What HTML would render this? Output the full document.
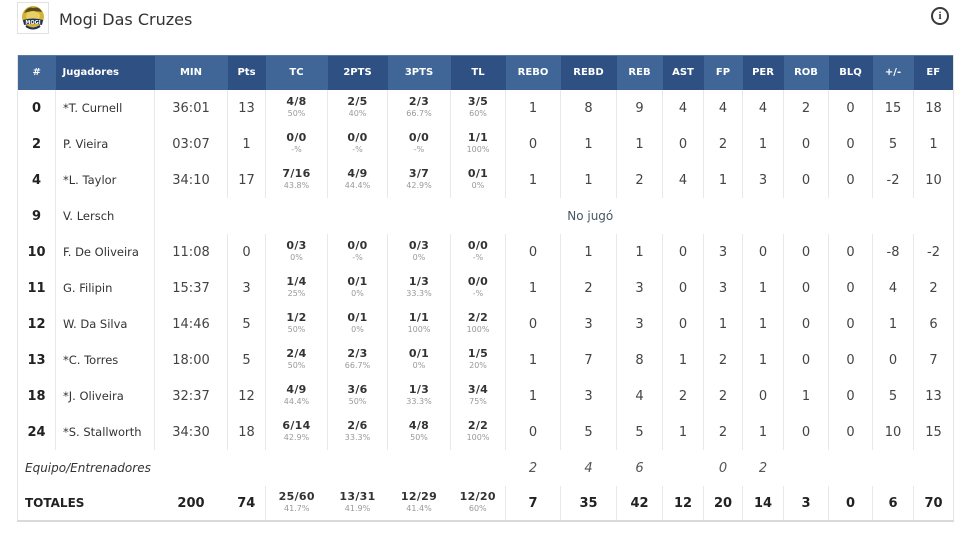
<!DOCTYPE html>
<html>
<head>
<meta charset="utf-8">
<style>
html,body{margin:0;padding:0;background:#fff;}
body{width:970px;height:537px;position:relative;overflow:hidden;font-family:"DejaVu Sans","Liberation Sans",sans-serif;color:#444;}
.logo{position:absolute;left:17px;top:2px;width:32px;height:32px;box-sizing:border-box;border:1px solid #e2e2e2;background:#fff;}
.title{position:absolute;left:59px;top:10px;font-size:16px;color:#333;line-height:20px;white-space:nowrap;}
.info{position:absolute;left:931px;top:7px;width:14px;height:14px;border:2px solid #3a3a3a;border-radius:50%;text-align:center;font:bold 11px/14px "Liberation Serif",serif;color:#3a3a3a;}
table{position:absolute;left:17px;top:55px;border-collapse:collapse;table-layout:fixed;width:936px;border-left:1px solid #e4e4e4;border-right:1px solid #e4e4e4;border-bottom:2px solid #dadada;}
th{height:35px;padding:0;color:#fff;font-size:10px;font-weight:bold;text-align:center;background:#2f5082;box-shadow:inset 0 1px 0 #5a7aa5;}
th.l{background:#3f6696;}
th.left{text-align:left;padding-left:7px;}
td{padding:0;text-align:center;font-size:13px;color:#444;height:36px;border-left:1px solid #e8e8e8;white-space:nowrap;}
td.n{font-weight:bold;color:#222;font-size:13px;border-left:none;}
td.p{text-align:left;padding-left:7px;font-size:11.5px;color:#333;}
td.f{line-height:12px;}
td.f b{display:block;font-size:11px;color:#333;letter-spacing:0.3px;}
td.f span{display:block;font-size:8px;color:#999;}
tr.nb td{border-left:none;}
td.nj{border-left:none;font-size:12px;color:#475766;}
tr.eq td{border-left:none;font-style:italic;color:#555;font-size:13px;}
tr.eq td.eqt{text-align:left;padding-left:7px;font-size:12px;color:#333;}
tr.tot td{height:34px;font-weight:bold;color:#222;}
tr.tot td.nb{border-left:none;}
tr.tot td.tt{text-align:left;padding-left:7px;font-size:12px;}
tr.tot td.f span{font-weight:normal;font-size:8px;color:#999;}
</style>
</head>
<body>
<div class="logo">
<svg width="30" height="30" viewBox="0 0 30 30">
<ellipse cx="15" cy="14" rx="11" ry="11" fill="#d4b23a"/>
<path d="M6 10 Q10 3 15 5 Q21 3 24 9 Q20 8 15 9 Q10 8 6 10Z" fill="#5a4a1a"/>
<ellipse cx="15" cy="13" rx="7" ry="5" fill="#e8cf63"/>
<path d="M5 17 Q15 14 25 17 L24 22 Q15 19 6 22Z" fill="#1f3358"/>
<text x="15" y="21" font-size="5" font-weight="bold" fill="#fff" text-anchor="middle" font-family="DejaVu Sans,sans-serif">MOGI</text>
<path d="M8 23 Q15 28 22 23" stroke="#1f3358" stroke-width="2" fill="none"/>
</svg>
</div>
<div class="title">Mogi Das Cruzes</div>
<div class="info">i</div>

<table>
<colgroup>
<col style="width:38px"><col style="width:99px"><col style="width:73px"><col style="width:38px">
<col style="width:62px"><col style="width:60px"><col style="width:63px"><col style="width:55px">
<col style="width:55px"><col style="width:56px"><col style="width:46px"><col style="width:41px">
<col style="width:39px"><col style="width:41px"><col style="width:45px"><col style="width:44px">
<col style="width:41px"><col style="width:40px">
</colgroup>
<thead>
<tr>
<th class="l">#</th><th class="left">Jugadores</th><th class="l">MIN</th><th>Pts</th><th class="l">TC</th><th>2PTS</th><th class="l">3PTS</th><th>TL</th><th class="l">REBO</th><th>REBD</th><th class="l">REB</th><th>AST</th><th class="l">FP</th><th>PER</th><th class="l">ROB</th><th>BLQ</th><th class="l">+/-</th><th>EF</th>
</tr>
</thead>
<tbody>
<tr><td class="n">0</td><td class="p">*T. Curnell</td><td>36:01</td><td>13</td>
<td class="f"><b>4/8</b><span>50%</span></td><td class="f"><b>2/5</b><span>40%</span></td><td class="f"><b>2/3</b><span>66.7%</span></td><td class="f"><b>3/5</b><span>60%</span></td>
<td>1</td><td>8</td><td>9</td><td>4</td><td>4</td><td>4</td><td>2</td><td>0</td><td>15</td><td>18</td></tr>

<tr><td class="n">2</td><td class="p">P. Vieira</td><td>03:07</td><td>1</td>
<td class="f"><b>0/0</b><span>-%</span></td><td class="f"><b>0/0</b><span>-%</span></td><td class="f"><b>0/0</b><span>-%</span></td><td class="f"><b>1/1</b><span>100%</span></td>
<td>0</td><td>1</td><td>1</td><td>0</td><td>2</td><td>1</td><td>0</td><td>0</td><td>5</td><td>1</td></tr>

<tr><td class="n">4</td><td class="p">*L. Taylor</td><td>34:10</td><td>17</td>
<td class="f"><b>7/16</b><span>43.8%</span></td><td class="f"><b>4/9</b><span>44.4%</span></td><td class="f"><b>3/7</b><span>42.9%</span></td><td class="f"><b>0/1</b><span>0%</span></td>
<td>1</td><td>1</td><td>2</td><td>4</td><td>1</td><td>3</td><td>0</td><td>0</td><td>-2</td><td>10</td></tr>

<tr><td class="n">9</td><td class="p">V. Lersch</td><td></td><td class="nj" colspan="15">No jugó</td></tr>

<tr><td class="n">10</td><td class="p">F. De Oliveira</td><td>11:08</td><td>0</td>
<td class="f"><b>0/3</b><span>0%</span></td><td class="f"><b>0/0</b><span>-%</span></td><td class="f"><b>0/3</b><span>0%</span></td><td class="f"><b>0/0</b><span>-%</span></td>
<td>0</td><td>1</td><td>1</td><td>0</td><td>3</td><td>0</td><td>0</td><td>0</td><td>-8</td><td>-2</td></tr>

<tr><td class="n">11</td><td class="p">G. Filipin</td><td>15:37</td><td>3</td>
<td class="f"><b>1/4</b><span>25%</span></td><td class="f"><b>0/1</b><span>0%</span></td><td class="f"><b>1/3</b><span>33.3%</span></td><td class="f"><b>0/0</b><span>-%</span></td>
<td>1</td><td>2</td><td>3</td><td>0</td><td>3</td><td>1</td><td>0</td><td>0</td><td>4</td><td>2</td></tr>

<tr><td class="n">12</td><td class="p">W. Da Silva</td><td>14:46</td><td>5</td>
<td class="f"><b>1/2</b><span>50%</span></td><td class="f"><b>0/1</b><span>0%</span></td><td class="f"><b>1/1</b><span>100%</span></td><td class="f"><b>2/2</b><span>100%</span></td>
<td>0</td><td>3</td><td>3</td><td>0</td><td>1</td><td>1</td><td>0</td><td>0</td><td>1</td><td>6</td></tr>

<tr><td class="n">13</td><td class="p">*C. Torres</td><td>18:00</td><td>5</td>
<td class="f"><b>2/4</b><span>50%</span></td><td class="f"><b>2/3</b><span>66.7%</span></td><td class="f"><b>0/1</b><span>0%</span></td><td class="f"><b>1/5</b><span>20%</span></td>
<td>1</td><td>7</td><td>8</td><td>1</td><td>2</td><td>1</td><td>0</td><td>0</td><td>0</td><td>7</td></tr>

<tr><td class="n">18</td><td class="p">*J. Oliveira</td><td>32:37</td><td>12</td>
<td class="f"><b>4/9</b><span>44.4%</span></td><td class="f"><b>3/6</b><span>50%</span></td><td class="f"><b>1/3</b><span>33.3%</span></td><td class="f"><b>3/4</b><span>75%</span></td>
<td>1</td><td>3</td><td>4</td><td>2</td><td>2</td><td>0</td><td>1</td><td>0</td><td>5</td><td>13</td></tr>

<tr><td class="n">24</td><td class="p">*S. Stallworth</td><td>34:30</td><td>18</td>
<td class="f"><b>6/14</b><span>42.9%</span></td><td class="f"><b>2/6</b><span>33.3%</span></td><td class="f"><b>4/8</b><span>50%</span></td><td class="f"><b>2/2</b><span>100%</span></td>
<td>0</td><td>5</td><td>5</td><td>1</td><td>2</td><td>1</td><td>0</td><td>0</td><td>10</td><td>15</td></tr>

<tr class="eq"><td class="eqt" colspan="4">Equipo/Entrenadores</td><td></td><td></td><td></td><td></td>
<td>2</td><td>4</td><td>6</td><td></td><td>0</td><td>2</td><td></td><td></td><td></td><td></td></tr>

<tr class="tot"><td class="tt nb" colspan="2">TOTALES</td><td class="nb">200</td><td class="nb">74</td>
<td class="f"><b>25/60</b><span>41.7%</span></td><td class="f nb"><b>13/31</b><span>41.9%</span></td><td class="f nb"><b>12/29</b><span>41.4%</span></td><td class="f nb"><b>12/20</b><span>60%</span></td>
<td>7</td><td>35</td><td>42</td><td>12</td><td>20</td><td>14</td><td>3</td><td>0</td><td>6</td><td>70</td></tr>
</tbody>
</table>
</body>
</html>
